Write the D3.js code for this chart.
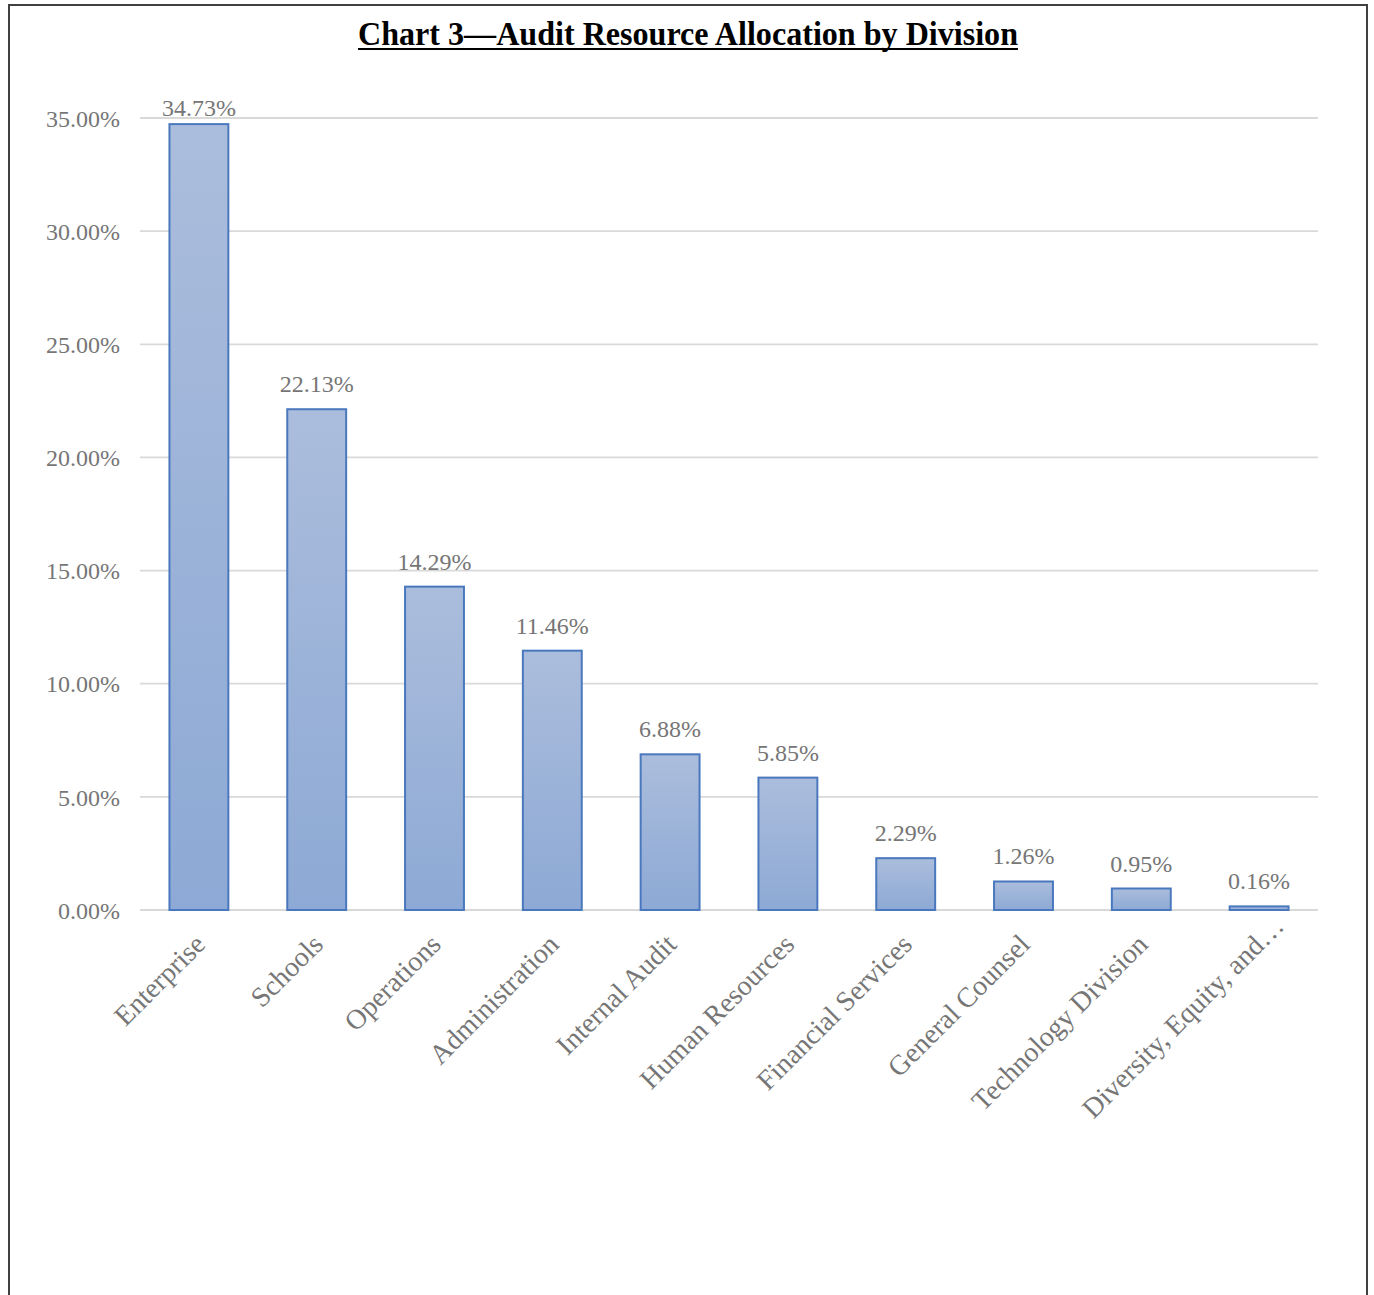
<!DOCTYPE html>
<html>
<head>
<meta charset="utf-8">
<script src="https://cdn.jsdelivr.net/npm/d3@7"></script>
<style>
  body { margin: 0; background: #fff; }
  svg text { font-family: "Liberation Serif", "Times New Roman", serif; }
</style>
</head>
<body>
<svg></svg>
<script>
const divisions = ['Enterprise', 'Schools', 'Operations', 'Administration', 'Internal Audit',
  'Human Resources', 'Financial Services', 'General Counsel', 'Technology Division',
  'Diversity, Equity, and…'];
const shares = [34.73, 22.13, 14.29, 11.46, 6.88, 5.85, 2.29, 1.26, 0.95, 0.16];
const yTicks = [0, 5, 10, 15, 20, 25, 30, 35];

const data = divisions.map((d, i) => ({name: d, value: shares[i]}));

const W = 1374, H = 1295;
const labelColor = '#767676';
const svg = d3.select('svg').attr('width', W).attr('height', H);

const defs = svg.append('defs');
const grad = defs.append('linearGradient')
  .attr('id', 'barFill').attr('x1', 0).attr('y1', 0).attr('x2', 0).attr('y2', 1);
grad.append('stop').attr('offset', '0%').attr('stop-color', '#abbddc');
grad.append('stop').attr('offset', '100%').attr('stop-color', '#8da9d5');

// frame
svg.append('rect')
  .attr('x', 9).attr('y', 5).attr('width', 1358).attr('height', 1310)
  .attr('fill', 'none').attr('stroke', '#404040').attr('stroke-width', 2);

// title
svg.append('text')
  .attr('x', 688).attr('y', 45)
  .attr('text-anchor', 'middle')
  .attr('font-size', 33).attr('font-weight', 'bold')
  .attr('textLength', 660).attr('lengthAdjust', 'spacingAndGlyphs')
  .attr('fill', '#000')
  .text('Chart 3—Audit Resource Allocation by Division');
svg.append('line')
  .attr('x1', 358).attr('x2', 1018).attr('y1', 49).attr('y2', 49)
  .attr('stroke', '#000').attr('stroke-width', 2);

const x = d3.scaleBand().domain(divisions).range([140, 1318]).paddingInner(0.5).paddingOuter(0.25);
const y = d3.scaleLinear().domain([0, 35]).range([910, 118]);

// gridlines
svg.append('g')
  .selectAll('line')
  .data(yTicks)
  .enter()
  .append('line')
  .attr('x1', 140).attr('x2', 1318)
  .attr('y1', d => y(d)).attr('y2', d => y(d))
  .attr('stroke', '#d9d9d9').attr('stroke-width', 1.8);

// y axis labels
const yAxis = svg.append('g')
  .attr('transform', 'translate(140,0)')
  .call(d3.axisLeft(y).tickValues(yTicks).tickSize(0).tickPadding(20)
    .tickFormat(d => d.toFixed(2) + '%'));
yAxis.select('.domain').remove();
yAxis.selectAll('text')
  .attr('font-family', '"Liberation Serif", serif')
  .attr('font-size', 24).attr('fill', labelColor).attr('dy', '0.34em');

// bars
svg.selectAll('.bar')
  .data(data)
  .enter()
  .append('rect')
  .attr('class', 'bar')
  .attr('x', d => x(d.name))
  .attr('y', d => y(d.value))
  .attr('width', x.bandwidth())
  .attr('height', d => y(0) - y(d.value))
  .attr('fill', 'url(#barFill)')
  .attr('stroke', '#4a78be').attr('stroke-width', 2);

// value labels (kept inside the plot area at the top)
svg.selectAll('.val')
  .data(data)
  .enter()
  .append('text')
  .attr('class', 'val')
  .attr('x', d => x(d.name) + x.bandwidth() / 2)
  .attr('y', d => Math.max(y(d.value) - 17, y(35) - 2))
  .attr('text-anchor', 'middle')
  .attr('font-size', 24).attr('fill', labelColor)
  .text(d => d.value.toFixed(2) + '%');

// category labels; the truncated one sits a little further out
svg.selectAll('.cat')
  .data(data)
  .enter()
  .append('text')
  .attr('class', 'cat')
  .attr('transform', d => {
    const cx = x(d.name) + x.bandwidth() / 2 + 8;
    return 'translate(' + cx + ',946) rotate(-45)';
  })
  .attr('dx', d => d.name.endsWith('…') ? 26 : 0)
  .attr('text-anchor', 'end')
  .attr('font-size', 28).attr('fill', labelColor)
  .text(d => d.name);
</script>
</body>
</html>
